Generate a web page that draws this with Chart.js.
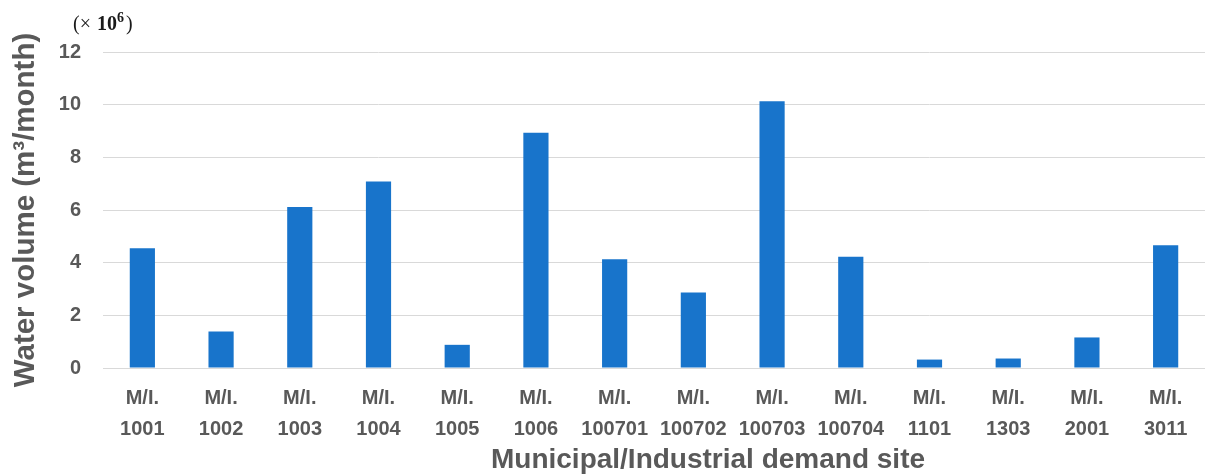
<!DOCTYPE html>
<html>
<head>
<meta charset="utf-8">
<script src="https://cdn.jsdelivr.net/npm/chart.js@4.4.1/dist/chart.umd.min.js"></script>
<style>
  html, body { margin: 0; padding: 0; background: #ffffff; }
  #wrap { width: 1205px; height: 474px; position: relative; }
</style>
</head>
<body>
<div id="wrap"><canvas id="c"></canvas></div>
<script>
// ---- data ----
const categoryPrefix = ["M/I.", "M/I.", "M/I.", "M/I.", "M/I.", "M/I.", "M/I.", "M/I.", "M/I.", "M/I.", "M/I.", "M/I.", "M/I.", "M/I."];
const categoryCodes = ["1001", "1002", "1003", "1004", "1005", "1006", "100701", "100702", "100703", "100704", "1101", "1303", "2001", "3011"];
const waterVolume = [4.55, 1.39, 6.11, 7.08, 0.88, 8.93, 4.13, 2.87, 10.13, 4.22, 0.32, 0.36, 1.16, 4.66];
const yTicks = [0, 2, 4, 6, 8, 10, 12];
const yAxisTitle = "Water volume (m\u00B3/month)";
const xAxisTitle = "Municipal/Industrial demand site";
const unitPrefix = "(\u00D7 ";
const unitBase = "10";
const unitExp = "6";
const unitSuffix = ")";

const labels = categoryCodes.map((c, i) => [categoryPrefix[i], c]);
const textColor = "#595959";
const sans = "'Liberation Sans', Arial, sans-serif";
const serif = "'Liberation Serif', 'DejaVu Serif', serif";

const extrasPlugin = {
  id: "extras",
  afterDraw(chart) {
    const ctx = chart.ctx;
    const area = chart.chartArea;
    ctx.save();
    // x-axis title
    ctx.fillStyle = textColor;
    ctx.font = "bold 28px " + sans;
    ctx.textAlign = "center";
    ctx.textBaseline = "alphabetic";
    ctx.fillText(xAxisTitle, (area.left + area.right) / 2 + 54, chart.height - 6);
    // unit label (x 10^6)
    let x = area.left - 30;
    const y = area.top - 22;
    ctx.textAlign = "left";
    ctx.fillStyle = "#1a1a1a";
    ctx.font = "20px " + serif;
    ctx.fillText(unitPrefix, x, y);
    x += ctx.measureText(unitPrefix).width + 1;
    ctx.font = "bold 20px " + serif;
    ctx.fillText(unitBase, x, y);
    x += ctx.measureText(unitBase).width;
    ctx.font = "bold 14px " + serif;
    ctx.fillText(unitExp, x, y - 8);
    x += ctx.measureText(unitExp).width + 2;
    ctx.font = "20px " + serif;
    ctx.fillText(unitSuffix, x, y);
    ctx.restore();
  }
};

new Chart(document.getElementById("c"), {
  type: "bar",
  data: {
    labels: labels,
    datasets: [{
      data: waterVolume,
      backgroundColor: "#1874CB",
      borderWidth: 0,
      barPercentage: 0.32,
      categoryPercentage: 1.0
    }]
  },
  options: {
    responsive: true,
    maintainAspectRatio: false,
    animation: false,
    layout: { padding: { top: 52, right: 0, bottom: 14, left: 0 } },
    plugins: { legend: { display: false }, tooltip: { enabled: false } },
    scales: {
      x: {
        grid: { display: false, drawTicks: false },
        border: { display: true, color: "#d9d9d9", width: 1 },
        ticks: {
          color: textColor,
          font: { family: sans, size: 20, weight: "bold", lineHeight: 1.55 },
          padding: 15,
          maxRotation: 0,
          autoSkip: false
        }
      },
      y: {
        min: 0,
        max: 12,
        afterBuildTicks(scale) { scale.ticks = yTicks.map(v => ({ value: v })); },
        afterFit(scale) { scale.width = 103; },
        grid: { color: "#d9d9d9", lineWidth: 1, drawTicks: false },
        border: { display: false },
        ticks: {
          color: textColor,
          font: { family: sans, size: 20, weight: "bold" },
          padding: 22
        },
        title: {
          display: true,
          text: yAxisTitle,
          color: textColor,
          font: { family: sans, size: 29.5, weight: "bold" },
          padding: { top: 8, bottom: 8 }
        }
      }
    }
  },
  plugins: [extrasPlugin]
});
</script>
</body>
</html>
